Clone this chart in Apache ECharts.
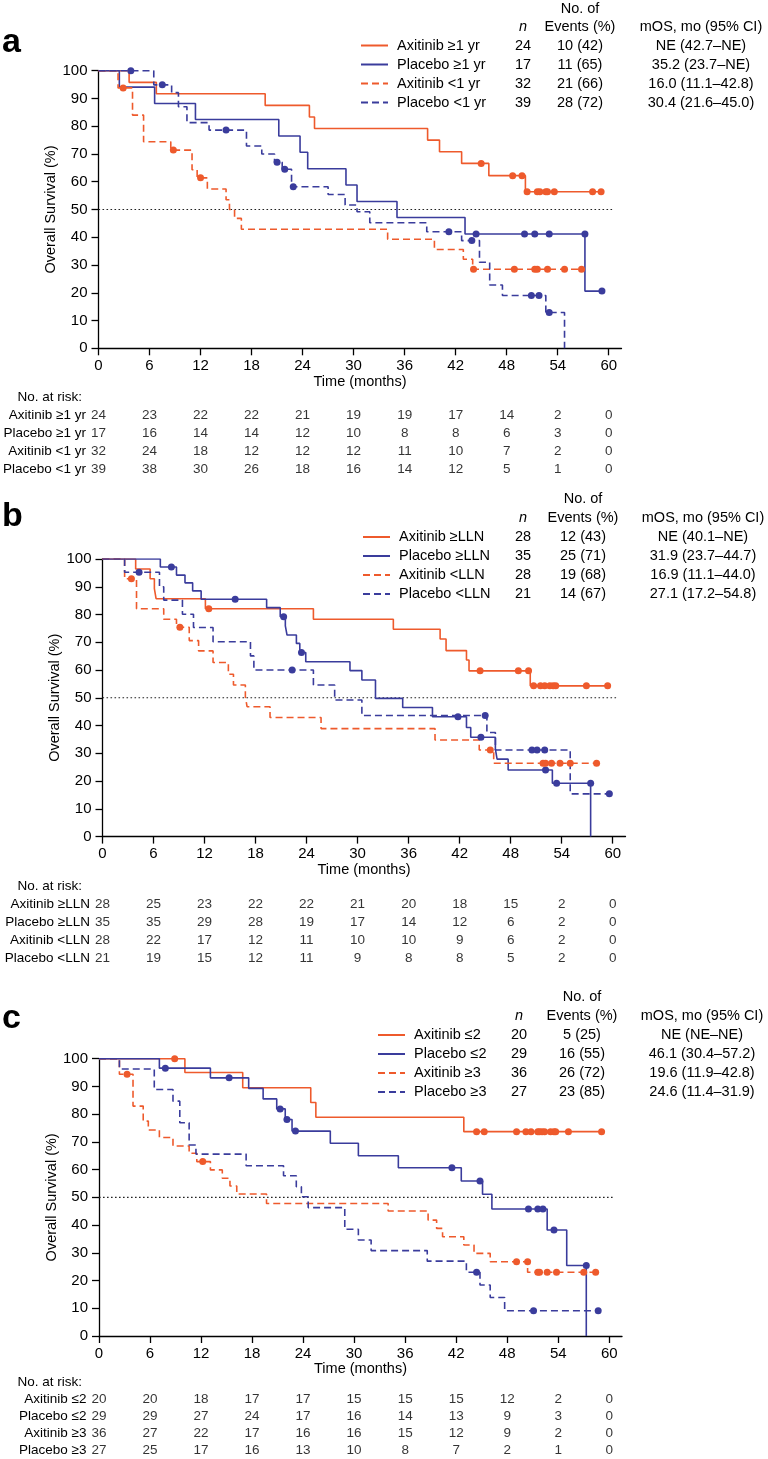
<!DOCTYPE html>
<html><head><meta charset="utf-8">
<script src="https://cdn.jsdelivr.net/npm/echarts@6/dist/echarts.min.js"></script>
<style>html,body{margin:0;padding:0;background:#fff}#chart{width:768px;height:1459px}</style>
</head><body><div id="chart"></div>
<script>
// ---------- shared ticks ----------
const monthTicks = [0, 6, 12, 18, 24, 30, 36, 42, 48, 54, 60];

// ---------- Panel a ----------
const groupsA = ['Axitinib ≥1 yr', 'Placebo ≥1 yr', 'Axitinib <1 yr', 'Placebo <1 yr'];
const nA = ['24', '17', '32', '39'];
const eventsA = ['10 (42)', '11 (65)', '21 (66)', '28 (72)'];
const mosA = ['NE (42.7–NE)', '35.2 (23.7–NE)', '16.0 (11.1–42.8)', '30.4 (21.6–45.0)'];
const curveA1 = [[0,100],[3.6,95.8],[6.8,91.7],[19.6,87.5],[24.8,83.3],[25.4,79.2],[38.7,75.0],[40.1,70.8],[42.7,66.6],[45.9,62.2],[50.2,56.4],[59.1,56.4]];
const censA1 = [[45.0,66.6],[48.7,62.2],[49.8,62.2],[50.4,56.4],[51.6,56.4],[51.9,56.4],[52.6,56.4],[52.8,56.4],[53.6,56.4],[58.1,56.4],[59.1,56.4]];
const curveA2 = [[0,100],[2.45,94.1],[6.6,88.2],[11.4,82.4],[21.2,76.5],[23.7,70.6],[24.6,64.7],[29.1,58.8],[30.4,52.9],[35.1,47.1],[43.1,41.2],[57.2,20.6],[59.2,20.6]];
const censA2 = [[44.4,41.2],[50.1,41.2],[51.3,41.2],[53.0,41.2],[57.2,41.2],[59.2,20.6]];
const curveA3 = [[0,100],[2.3,93.8],[4.0,84.0],[5.3,74.4],[8.5,71.4],[11.0,64.3],[11.6,61.4],[12.8,57.4],[15.0,53.5],[15.4,50.0],[16.0,46.8],[16.8,42.9],[34.0,39.3],[39.5,35.6],[42.9,32.1],[44.0,28.5],[56.8,28.5]];
const censA3 = [[2.9,93.8],[8.8,71.4],[12.0,61.4],[44.1,28.5],[48.9,28.5],[51.3,28.5],[51.6,28.5],[52.8,28.5],[54.8,28.5],[56.8,28.5]];
const curveA4 = [[0,100],[6.5,94.9],[8.6,92.1],[9.4,87.0],[10.4,81.3],[13.0,78.6],[17.4,72.9],[19.2,70.0],[20.7,67.0],[21.6,64.5],[22.7,58.2],[27.0,55.4],[29.0,51.6],[30.4,49.2],[31.9,45.2],[38.6,42.0],[42.7,38.8],[44.8,31.0],[46.0,22.8],[47.5,19.0],[52.6,12.9],[54.8,0]];
const censA4 = [[3.8,100],[7.5,94.9],[15.0,78.6],[21.0,67.0],[21.9,64.5],[22.9,58.2],[41.2,42.0],[43.9,38.8],[50.9,19.0],[51.8,19.0],[53.0,12.9]];
const riskA1 = [24, 23, 22, 22, 21, 19, 19, 17, 14, 2, 0];
const riskA2 = [17, 16, 14, 14, 12, 10, 8, 8, 6, 3, 0];
const riskA3 = [32, 24, 18, 12, 12, 12, 11, 10, 7, 2, 0];
const riskA4 = [39, 38, 30, 26, 18, 16, 14, 12, 5, 1, 0];

// ---------- Panel b ----------
const groupsB = ['Axitinib ≥LLN', 'Placebo ≥LLN', 'Axitinib <LLN', 'Placebo <LLN'];
const nB = ['28', '35', '28', '21'];
const eventsB = ['12 (43)', '25 (71)', '19 (68)', '14 (67)'];
const mosB = ['NE (40.1–NE)', '31.9 (23.7–44.7)', '16.9 (11.1–44.0)', '27.1 (17.2–54.8)'];
const curveB1 = [[0,100],[3.9,96.4],[5.6,92.9],[6.1,89.3],[6.3,85.7],[12.1,82.1],[24.8,78.3],[34.2,74.7],[39.7,71.2],[40.4,67.0],[42.8,63.6],[43.1,59.7],[50.3,54.3],[59.4,54.3]];
const censB1 = [[12.5,82.1],[44.4,59.7],[48.9,59.7],[50.1,59.7],[50.7,54.3],[51.5,54.3],[52.0,54.3],[52.6,54.3],[53.0,54.3],[53.3,54.3],[56.9,54.3],[59.4,54.3]];
const curveB2 = [[0,100],[6.8,97.1],[8.7,94.2],[9.7,91.4],[10.6,88.5],[11.6,85.5],[19.3,82.5],[20.9,79.2],[21.5,75.9],[21.7,72.6],[22.8,69.6],[23.2,66.3],[23.9,63.0],[29.1,59.8],[30.5,56.4],[32.1,49.8],[35.3,46.5],[38.8,43.2],[42.8,39.3],[43.3,35.8],[46.2,31.5],[46.4,27.9],[47.7,24.0],[52.9,19.2],[57.4,0]];
const censB2 = [[8.1,97.1],[15.6,85.5],[21.3,79.2],[23.4,66.3],[41.8,43.2],[44.5,35.8],[52.1,24.0],[53.4,19.2],[57.4,19.2]];
const curveB3 = [[0,100],[2.6,92.9],[4.0,82.1],[7.2,78.3],[8.7,75.4],[10.2,70.6],[11.3,66.9],[13.0,62.7],[14.8,58.5],[15.4,54.6],[16.8,50.4],[17.0,46.8],[19.7,42.9],[25.7,38.9],[39.1,34.8],[44.3,31.2],[46.0,26.4],[58.1,26.4]];
const censB3 = [[3.4,92.9],[9.1,75.4],[45.6,31.2],[51.8,26.4],[52.1,26.4],[52.8,26.4],[53.8,26.4],[55.0,26.4],[58.1,26.4]];
const curveB4 = [[0,100],[2.6,95.2],[6.7,90.0],[7.2,85.2],[9.4,80.1],[10.7,75.3],[13.0,70.2],[17.4,65.1],[17.8,60.0],[24.8,54.6],[27.3,49.2],[30.5,43.6],[45.2,37.5],[46.2,31.2],[55.0,15.4],[59.6,15.4]];
const censB4 = [[4.3,95.2],[22.3,60.0],[45.0,43.6],[50.5,31.2],[51.1,31.2],[52.0,31.2],[59.6,15.4]];
const riskB1 = [28, 25, 23, 22, 22, 21, 20, 18, 15, 2, 0];
const riskB2 = [35, 35, 29, 28, 19, 17, 14, 12, 6, 2, 0];
const riskB3 = [28, 22, 17, 12, 11, 10, 10, 9, 6, 2, 0];
const riskB4 = [21, 19, 15, 12, 11, 9, 8, 8, 5, 2, 0];

// ---------- Panel c ----------
const groupsC = ['Axitinib ≤2', 'Placebo ≤2', 'Axitinib ≥3', 'Placebo ≥3'];
const nC = ['20', '29', '36', '27'];
const eventsC = ['5 (25)', '16 (55)', '26 (72)', '23 (85)'];
const mosC = ['NE (NE–NE)', '46.1 (30.4–57.2)', '19.6 (11.9–42.8)', '24.6 (11.4–31.9)'];
const curveC1 = [[0,100],[10.1,95.0],[16.9,89.5],[24.9,84.2],[25.5,78.9],[42.9,73.7],[59.1,73.7]];
const censC1 = [[8.9,100],[44.4,73.7],[45.3,73.7],[49.1,73.7],[50.2,73.7],[50.8,73.7],[51.6,73.7],[51.8,73.7],[52.1,73.7],[52.4,73.7],[53.1,73.7],[53.5,73.7],[53.7,73.7],[55.2,73.7],[59.1,73.7]];
const curveC2 = [[0,100],[7.1,96.6],[13.1,93.1],[17.6,89.3],[19.3,85.5],[20.9,81.9],[21.9,78.1],[22.7,73.9],[27.2,69.5],[30.5,65.0],[35.2,60.7],[42.6,55.9],[45.1,51.1],[46.2,45.8],[52.7,38.2],[55.0,25.4],[57.3,0]];
const censC2 = [[7.8,96.6],[15.3,93.1],[21.3,81.9],[22.1,78.1],[23.1,73.9],[41.5,60.7],[44.8,55.9],[50.5,45.8],[51.6,45.8],[52.2,45.8],[53.5,38.2],[57.3,25.4]];
const curveC3 = [[0,100],[2.4,94.4],[4.0,82.9],[5.2,77.5],[5.8,74.3],[7.1,71.6],[8.7,68.5],[10.6,65.9],[11.5,62.9],[13.1,59.9],[14.5,56.9],[15.4,54.1],[16.2,51.2],[19.7,47.8],[34.0,45.1],[38.7,41.8],[39.7,38.8],[40.4,35.8],[42.9,32.8],[44.1,29.8],[46.0,26.8],[50.4,23.0],[58.4,23.0]];
const censC3 = [[3.3,94.4],[12.2,62.9],[49.1,26.8],[50.4,26.8],[51.6,23.0],[51.8,23.0],[52.7,23.0],[53.8,23.0],[57.0,23.0],[58.4,23.0]];
const curveC4 = [[0,100],[2.4,96.3],[6.5,88.9],[8.7,84.7],[9.5,76.9],[10.6,68.9],[11.4,65.6],[17.3,61.4],[21.7,57.8],[23.2,53.8],[23.8,50.2],[24.6,46.3],[28.9,38.5],[30.5,34.6],[32.0,30.8],[38.6,27.0],[43.2,23.0],[44.8,18.4],[46.0,13.9],[47.7,9.1],[58.7,9.1]];
const censC4 = [[44.4,23.0],[51.1,9.1],[58.7,9.1]];
const riskC1 = [20, 20, 18, 17, 17, 15, 15, 15, 12, 2, 0];
const riskC2 = [29, 29, 27, 24, 17, 16, 14, 13, 9, 3, 0];
const riskC3 = [36, 27, 22, 17, 16, 16, 15, 12, 9, 2, 0];
const riskC4 = [27, 25, 17, 16, 13, 10, 8, 7, 2, 1, 0];

// ---------- assemble (data references + layout) ----------
const panels = [
  { letter: 'a', groups: groupsA, n: nA, events: eventsA, mos: mosA,
    curves: [curveA1, curveA2, curveA3, curveA4], cens: [censA1, censA2, censA3, censA4],
    risk: [riskA1, riskA2, riskA3, riskA4] },
  { letter: 'b', groups: groupsB, n: nB, events: eventsB, mos: mosB,
    curves: [curveB1, curveB2, curveB3, curveB4], cens: [censB1, censB2, censB3, censB4],
    risk: [riskB1, riskB2, riskB3, riskB4] },
  { letter: 'c', groups: groupsC, n: nC, events: eventsC, mos: mosC,
    curves: [curveC1, curveC2, curveC3, curveC4], cens: [censC1, censC2, censC3, censC4],
    risk: [riskC1, riskC2, riskC3, riskC4] }
];

const layout = [
  { left: 98.5, top: 70.7, h: 277.6, letterX: 2, letterY: 60, rowsY: 45.5, noOfY: 9, headY: 27,
    legendLeft: 360, colN: 523, colEv: 580, colMos: 701, nameGap: 23, riskTop: 406, narY: 397 },
  { left: 102.5, top: 559, h: 277.6, letterX: 2, letterY: 534, rowsY: 537, noOfY: 499, headY: 518,
    legendLeft: 362, colN: 523, colEv: 583, colMos: 703, nameGap: 21, riskTop: 895, narY: 886 },
  { left: 99, top: 1058.7, h: 277.3, letterX: 2, letterY: 1036, rowsY: 1035, noOfY: 997, headY: 1016,
    legendLeft: 377, colN: 519, colEv: 582, colMos: 702, nameGap: 19, riskTop: 1391, narY: 1382 }
];

const FONT = "'Liberation Sans', Arial, Helvetica, sans-serif";
const ORANGE = '#ee5a2c';
const BLUE = '#3a3c9c';
const styles = [
  { color: ORANGE, dash: 'solid' }, { color: BLUE, dash: 'solid' },
  { color: ORANGE, dash: [7, 4] }, { color: BLUE, dash: [7, 4] }
];
const XMAX = 61.5;
const GRID_W = 523;
const ROW_GAP = 19;

const grid = [], xAxis = [], yAxis = [], series = [], legend = [], gfx = [];

panels.forEach((p, pi) => {
  const L = layout[pi];
  const gMain = pi * 2, gRisk = pi * 2 + 1;
  grid.push({ left: L.left, top: L.top, width: GRID_W, height: L.h, containLabel: false });
  grid.push({ left: L.left, top: L.riskTop, width: GRID_W, height: 72, containLabel: false });

  xAxis.push({
    type: 'value', gridIndex: gMain, min: 0, max: XMAX,
    axisLine: { show: true, onZero: false, lineStyle: { color: '#000', width: 1.3 } },
    axisTick: { show: true, length: 7, customValues: monthTicks, lineStyle: { color: '#000', width: 1.3 } },
    axisLabel: { customValues: monthTicks, margin: 10, fontSize: 15, color: '#000', fontFamily: FONT },
    splitLine: { show: false },
    name: 'Time (months)', nameLocation: 'middle', nameGap: L.nameGap,
    nameTextStyle: { fontSize: 14.5, color: '#000', fontFamily: FONT }
  });
  yAxis.push({
    type: 'value', gridIndex: gMain, min: 0, max: 100, interval: 10,
    axisLine: { show: true, lineStyle: { color: '#000', width: 1.3 } },
    axisTick: { show: true, length: 7, lineStyle: { color: '#000', width: 1.3 } },
    axisLabel: { margin: 11, fontSize: 15, color: '#000', fontFamily: FONT },
    splitLine: { show: false },
    name: 'Overall Survival (%)', nameLocation: 'middle', nameGap: 40, nameMoveOverlap: false,
    nameTextStyle: { fontSize: 14.5, color: '#000', fontFamily: FONT }
  });
  // risk table axes
  xAxis.push({ type: 'value', gridIndex: gRisk, min: 0, max: XMAX, show: false });
  yAxis.push({
    type: 'category', gridIndex: gRisk, data: p.groups, inverse: true,
    axisLine: { show: false }, axisTick: { show: false }, splitLine: { show: false },
    axisLabel: { interval: 0, margin: 12.5, fontSize: 13.5, color: '#000', fontFamily: FONT }
  });

  // 50% reference line
  series.push({
    type: 'line', name: 'median ' + p.letter, xAxisIndex: gMain, yAxisIndex: gMain,
    data: [[0, 50], [60.4, 50]], symbol: 'none', silent: true, z: 1,
    lineStyle: { color: '#222', width: 1.1, type: [1.6, 2.4] }
  });
  // curves
  p.curves.forEach((c, gi) => {
    const st = styles[gi];
    series.push({
      type: 'line', name: p.groups[gi], xAxisIndex: gMain, yAxisIndex: gMain,
      data: c, step: 'end', symbol: 'none', showSymbol: false, z: 3,
      itemStyle: { color: st.color },
      lineStyle: { color: st.color, width: 1.6, type: st.dash }
    });
    series.push({
      type: 'scatter', name: p.groups[gi] + ' (censored)', xAxisIndex: gMain, yAxisIndex: gMain,
      data: p.cens[gi], symbol: 'circle', symbolSize: 7, z: 4,
      itemStyle: { color: st.color, opacity: 1 }
    });
  });
  // number at risk
  const riskData = [];
  p.risk.forEach((row, ri) => row.forEach((v, ti) => riskData.push([monthTicks[ti], ri, v])));
  series.push({
    type: 'scatter', name: 'at risk ' + p.letter, xAxisIndex: gRisk, yAxisIndex: gRisk,
    data: riskData, symbolSize: 1, itemStyle: { color: 'rgba(0,0,0,0)' }, silent: true,
    label: { show: true, position: 'inside', formatter: q => String(q.value[2]),
             color: '#000', fontSize: 13.5, fontFamily: FONT }
  });

  legend.push({
    data: p.groups, orient: 'vertical', left: L.legendLeft, top: L.rowsY - 7.5, padding: 0,
    itemWidth: 27, itemHeight: 14, itemGap: 4, selectedMode: false,
    itemStyle: { opacity: 0 },
    textStyle: { fontSize: 14.5, color: '#000', fontFamily: FONT, lineHeight: 15, padding: [0, 0, 0, 4] }
  });

  const txt = (text, x, y, opts) => gfx.push({
    type: 'text', x: x, y: y, silent: true,
    style: Object.assign({ text: text, fill: '#000', font: '14.5px ' + FONT,
      align: 'center', textAlign: 'center', verticalAlign: 'middle', textVerticalAlign: 'middle' }, opts || {})
  });
  txt(p.letter, L.letterX, L.letterY, { font: 'bold 34px ' + FONT, align: 'left', textAlign: 'left',
    verticalAlign: 'bottom', textVerticalAlign: 'bottom' });
  txt('No. of', L.colEv, L.noOfY);
  txt('n', L.colN, L.headY, { font: 'italic 14.5px ' + FONT });
  txt('Events (%)', L.colEv, L.headY);
  txt('mOS, mo (95% CI)', L.colMos, L.headY);
  p.groups.forEach((g, gi) => {
    const y = L.rowsY + gi * ROW_GAP;
    txt(p.n[gi], L.colN, y);
    txt(p.events[gi], L.colEv, y);
    txt(p.mos[gi], L.colMos, y);
  });
  txt('No. at risk:', 82, L.narY, { font: '13.5px ' + FONT, align: 'right', textAlign: 'right' });
});

const chart = echarts.init(document.getElementById('chart'), null, { renderer: 'canvas' });
chart.setOption({
  backgroundColor: '#fff', animation: false,
  grid, xAxis, yAxis, series, legend,
  graphic: { elements: gfx }
});
</script></body></html>
